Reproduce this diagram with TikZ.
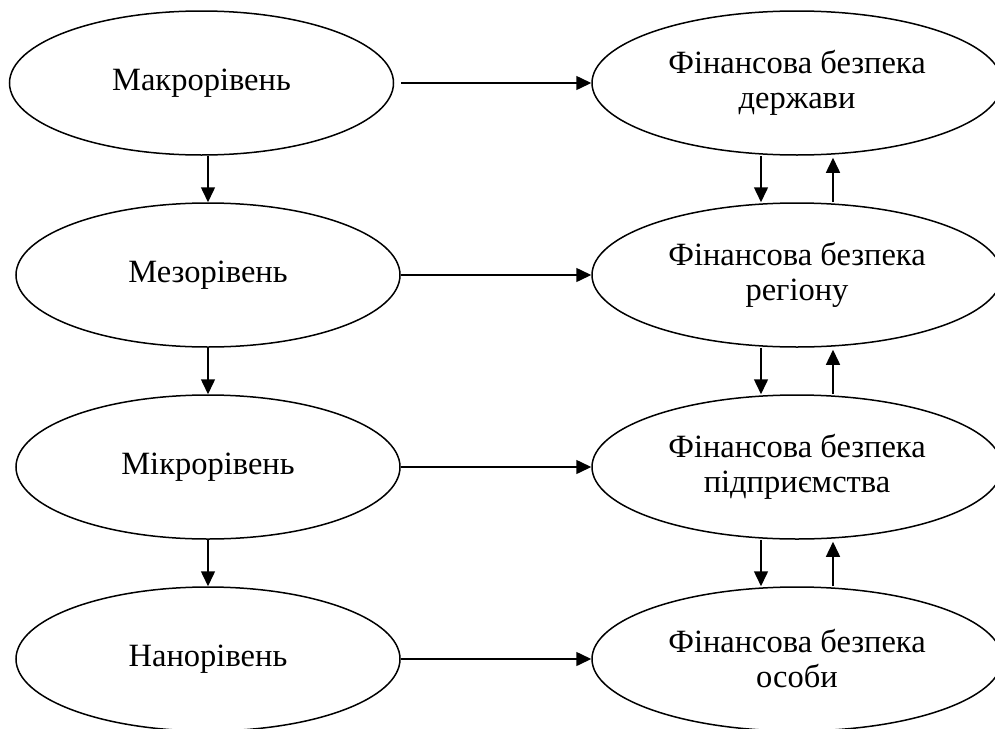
\documentclass[tikz,border=0pt]{standalone}
\usepackage{fontspec}
\setmainfont{Liberation Serif}
\usetikzlibrary{shapes.geometric,arrows.meta}
\begin{document}
\begin{tikzpicture}[x=1pt,y=-1pt,
  oval/.style={draw,ellipse,line width=1.5pt,inner sep=0pt,align=center,
    font=\fontsize{32.5}{35}\selectfont},
  lvl/.style={oval,minimum width=384pt,minimum height=144pt},
  fin/.style={oval,minimum width=410pt,minimum height=144pt},
  arr/.style={line width=1.5pt,-{Triangle[length=15pt,width=14pt]}}]
\useasboundingbox (0,0) rectangle (995,728);
\clip (0,0) rectangle (995,728);
\node[lvl] (L1) at (201.5,83) {Макрорівень};
\node[lvl] (L2) at (208,275) {Мезорівень};
\node[lvl] (L3) at (208,467) {Мікрорівень};
\node[lvl] (L4) at (208,659) {Нанорівень};
\node[fin] (R1) at (797,83) {Фінансова безпека\\держави};
\node[fin] (R2) at (797,275) {Фінансова безпека\\регіону};
\node[fin] (R3) at (797,467) {Фінансова безпека\\підприємства};
\node[fin] (R4) at (797,659) {Фінансова безпека\\особи};
% horizontal
\draw[arr] ([xshift=7pt]L1.east) -- (R1.west);
\draw[arr] (L2.east) -- (R2.west);
\draw[arr] (L3.east) -- (R3.west);
\draw[arr] (L4.east) -- (R4.west);
% left vertical
\draw[arr] (L2.north |- L1.south) -- (L2.north);
\draw[arr] (L2.south) -- (L3.north);
\draw[arr] (L3.south) -- (L4.north);
% right vertical pairs
\foreach \a/\b in {R1/R2,R2/R3,R3/R4}{
  \draw[arr] ([xshift=-36pt]\a.south) -- ([xshift=-36pt]\b.north);
  \draw[arr] ([xshift=36pt]\b.north) -- ([xshift=36pt,yshift=-2pt]\a.south);
}
\end{tikzpicture}
\end{document}
